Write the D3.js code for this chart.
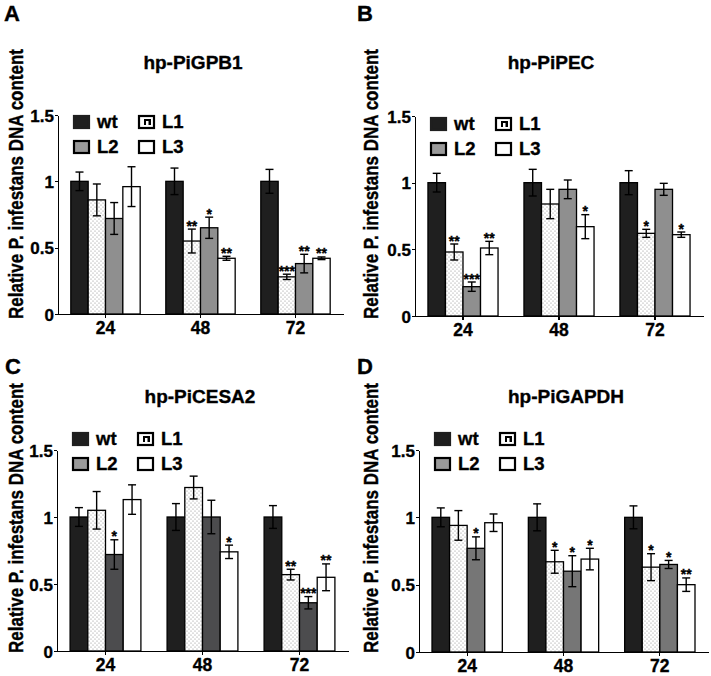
<!DOCTYPE html>
<html>
<head>
<meta charset="utf-8">
<script src="https://cdn.jsdelivr.net/npm/d3@7/dist/d3.min.js"></script>
<style>
  html, body { margin: 0; padding: 0; background: #fff; }
  svg { display: block; }
  text { font-family: "Liberation Sans", Arial, Helvetica, sans-serif; font-weight: bold; fill: #000; stroke: #000; stroke-width: 0.35px; }
</style>
</head>
<body>
<svg id="chart" width="711" height="676"></svg>
<script>
// ---------------- DATA ----------------
const categories = ["24", "48", "72"];
const seriesNames = ["wt", "L1", "L2", "L3"];
const yTickValues = [0, 0.5, 1, 1.5];
const yTickLabels = ["0", "0.5", "1", "1.5"];
const panelLetters = ["A", "B", "C", "D"];
const panelTitles = ["hp-PiGPB1", "hp-PiPEC", "hp-PiCESA2", "hp-PiGAPDH"];
const yAxisTitle = "Relative P. infestans DNA content";

// values[category][series]  (series order: wt, L1, L2, L3)
const gpb1Values = [[1.00, 0.86, 0.72, 0.96], [1.00, 0.55, 0.65, 0.42], [1.00, 0.28, 0.38, 0.42]];
const gpb1Errors = [[0.07, 0.12, 0.12, 0.15], [0.10, 0.09, 0.08, 0.015], [0.09, 0.02, 0.07, 0.01]];
const gpb1Stars  = [["", "", "", ""], ["", "**", "*", "**"], ["", "***", "**", "**"]];

const pecValues = [[1.00, 0.48, 0.22, 0.51], [1.00, 0.84, 0.95, 0.67], [1.00, 0.62, 0.95, 0.61]];
const pecErrors = [[0.07, 0.06, 0.035, 0.05], [0.10, 0.11, 0.07, 0.09], [0.09, 0.03, 0.045, 0.02]];
const pecStars  = [["", "**", "***", "**"], ["", "", "", "*"], ["", "*", "", "*"]];

const cesa2Values = [[1.00, 1.05, 0.72, 1.13], [1.00, 1.22, 1.00, 0.74], [1.00, 0.57, 0.36, 0.55]];
const cesa2Errors = [[0.07, 0.14, 0.11, 0.11], [0.10, 0.085, 0.125, 0.05], [0.085, 0.04, 0.046, 0.10]];
const cesa2Stars  = [["", "", "*", ""], ["", "", "", "*"], ["", "**", "***", "**"]];

const gapdhValues = [[1.00, 0.94, 0.77, 0.96], [1.00, 0.67, 0.60, 0.69], [1.00, 0.63, 0.65, 0.50]];
const gapdhErrors = [[0.07, 0.11, 0.085, 0.065], [0.10, 0.085, 0.115, 0.08], [0.085, 0.10, 0.03, 0.05]];
const gapdhStars  = [["", "", "*", ""], ["", "*", "*", "*"], ["", "*", "*", "**"]];

// ---------------- LAYOUT / STYLE ----------------
const panels = [
  { values: gpb1Values, errors: gpb1Errors, stars: gpb1Stars, l2: "#8f8f8f",
    x0: 58, x1: 343, yTop: 115, yBot: 314, lx: 4, ly: 21, tx: 193, ty: 69, ylx: 23, yly: 184, legTop: 115 },
  { values: pecValues, errors: pecErrors, stars: pecStars, l2: "#8f8f8f",
    x0: 415, x1: 703, yTop: 116, yBot: 316, lx: 357, ly: 21, tx: 551, ty: 69, ylx: 378, yly: 184, legTop: 117 },
  { values: cesa2Values, errors: cesa2Errors, stars: cesa2Stars, l2: "#4c4c4e",
    x0: 57, x1: 348, yTop: 450, yBot: 651, lx: 5, ly: 374, tx: 200, ty: 403, ylx: 23, yly: 518, legTop: 432 },
  { values: gapdhValues, errors: gapdhErrors, stars: gapdhStars, l2: "#767676",
    x0: 419, x1: 708, yTop: 450, yBot: 652, lx: 357, ly: 374, tx: 566, ty: 403, ylx: 378, yly: 518, legTop: 432 }
];

const svg = d3.select("#chart");
const defs = svg.append("defs");
const pat = defs.append("pattern").attr("id", "dots").attr("patternUnits", "userSpaceOnUse")
  .attr("width", 4).attr("height", 4);
pat.append("rect").attr("width", 4).attr("height", 4).attr("fill", "#fff");
pat.append("circle").attr("cx", 1).attr("cy", 1).attr("r", 0.6).attr("fill", "#8a8a8a");
pat.append("circle").attr("cx", 3).attr("cy", 3).attr("r", 0.6).attr("fill", "#8a8a8a");

panels.forEach((P, pi) => {
  const g = svg.append("g");
  const fills = { wt: "#1f1f1f", L1: "url(#dots)", L2: P.l2, L3: "#fff" };

  const x = d3.scaleBand().domain(categories).range([P.x0, P.x1]).paddingInner(0.27).paddingOuter(0.135);
  const xs = d3.scaleBand().domain(seriesNames).range([0, x.bandwidth()]);
  const y = d3.scaleLinear().domain([0, 1.5]).range([P.yBot, P.yTop]);

  // panel letter & title
  g.append("text").attr("x", P.lx).attr("y", P.ly).attr("font-size", 22).text(panelLetters[pi]);
  g.append("text").attr("x", P.tx).attr("y", P.ty).attr("text-anchor", "middle").attr("font-size", 19).text(panelTitles[pi]);

  // y axis title
  g.append("text").attr("transform", `translate(${P.ylx},${P.yly}) rotate(-90) scale(1,1.2)`)
    .attr("text-anchor", "middle").attr("font-size", 17).text(yAxisTitle);

  // bars
  const rows = [];
  categories.forEach((c, ci) => seriesNames.forEach((s, si) => {
    rows.push({ c, s, v: P.values[ci][si], e: P.errors[ci][si], star: P.stars[ci][si] });
  }));

  g.selectAll("rect.bar").data(rows).enter().append("rect").attr("class", "bar")
    .attr("x", d => x(d.c) + xs(d.s))
    .attr("y", d => y(d.v))
    .attr("width", xs.bandwidth())
    .attr("height", d => y(0) - y(d.v))
    .attr("fill", d => fills[d.s])
    .attr("stroke", "#000").attr("stroke-width", 1.3);

  // error bars
  const eb = g.selectAll("g.err").data(rows).enter().append("g").attr("class", "err")
    .attr("stroke", "#000").attr("stroke-width", 1.4);
  const cx = d => x(d.c) + xs(d.s) + xs.bandwidth() / 2;
  eb.append("line").attr("x1", cx).attr("x2", cx).attr("y1", d => y(d.v + d.e)).attr("y2", d => y(d.v - d.e));
  eb.append("line").attr("x1", d => cx(d) - 4).attr("x2", d => cx(d) + 4).attr("y1", d => y(d.v + d.e)).attr("y2", d => y(d.v + d.e));
  eb.append("line").attr("x1", d => cx(d) - 4).attr("x2", d => cx(d) + 4).attr("y1", d => y(d.v - d.e)).attr("y2", d => y(d.v - d.e));

  // significance stars
  g.selectAll("text.star").data(rows.filter(d => d.star)).enter().append("text").attr("class", "star")
    .attr("x", cx).attr("y", d => y(d.v + d.e) + 1.5)
    .attr("text-anchor", "middle").attr("font-size", 14).text(d => d.star);

  // axes
  const yAxis = d3.axisLeft(y).tickValues(yTickValues).tickSize(3).tickSizeOuter(0).tickPadding(1)
    .tickFormat((d, i) => yTickLabels[i]);
  const ya = g.append("g").attr("transform", `translate(${P.x0},0)`).call(yAxis);
  ya.selectAll("text").attr("font-size", 17).attr("dy", "0.36em");

  const xAxis = d3.axisBottom(x).tickSize(4).tickSizeOuter(0).tickPadding(4);
  const xa = g.append("g").attr("transform", `translate(0,${P.yBot})`).call(xAxis);
  xa.selectAll("text").attr("font-size", 17.5);
  [ya, xa].forEach(a => {
    a.attr("font-family", null);
    a.selectAll("path, line").attr("stroke", "#000").attr("stroke-width", 1.2).attr("shape-rendering", "crispEdges");
  });

  // legend
  const lg = g.append("g");
  const colX = [P.x0 + 15, P.x0 + 80];
  const rowY = [P.legTop, P.legTop + 25];
  const legendItems = [
    { s: "wt", col: 0, row: 0 }, { s: "L1", col: 1, row: 0 },
    { s: "L2", col: 0, row: 1 }, { s: "L3", col: 1, row: 1 }
  ];
  const legFill = { wt: "#1f1f1f", L1: "#fff", L2: "#9a9a9a", L3: "#fff" };
  legendItems.forEach(it => {
    const lx = colX[it.col], ly = rowY[it.row];
    lg.append("rect").attr("x", lx + 1).attr("y", ly + 1).attr("width", 15).attr("height", 12)
      .attr("fill", legFill[it.s]).attr("stroke", it.s === "wt" ? "#1f1f1f" : "#000").attr("stroke-width", 2.2);
    if (it.s === "L1") {
      lg.append("rect").attr("x", lx + 6).attr("y", ly + 4).attr("width", 7).attr("height", 6).attr("fill", "#000");
      lg.append("rect").attr("x", lx + 8).attr("y", ly + 6).attr("width", 2.5).attr("height", 4).attr("fill", "#fff");
    }
    lg.append("text").attr("x", lx + 24).attr("y", ly + 13).attr("font-size", 18.5).text(it.s);
  });
});
</script>
</body>
</html>
